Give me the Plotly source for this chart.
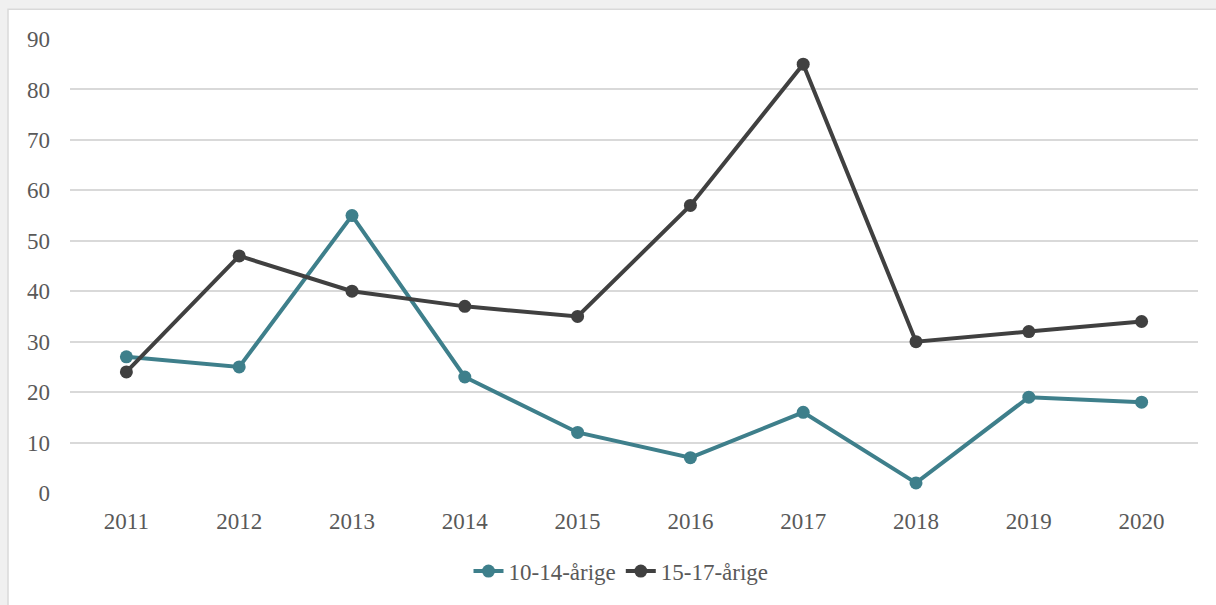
import plotly.graph_objects as go

years = ["2011", "2012", "2013", "2014", "2015", "2016", "2017", "2018", "2019", "2020"]
s_10_14 = [27, 25, 55, 23, 12, 7, 16, 2, 19, 18]
s_15_17 = [24, 47, 40, 37, 35, 57, 85, 30, 32, 34]
y_ticks = [0, 10, 20, 30, 40, 50, 60, 70, 80, 90]

W, H = 1216, 605
ml, mr, mt, mb = 70, 18, 39, 107
pw, ph = W - ml - mr, H - mt - mb

def px(x):
    return (x - ml) / pw

def py(y):
    return (H - mb - y) / ph

FONT = "Liberation Serif"
TXT = "#595959"

fig = go.Figure()
fig.add_trace(go.Scatter(x=years, y=s_10_14, name="10-14-årige", mode="lines+markers",
                         line=dict(color="#3e7f8b", width=4), marker=dict(size=13, color="#3e7f8b")))
fig.add_trace(go.Scatter(x=years, y=s_15_17, name="15-17-årige", mode="lines+markers",
                         line=dict(color="#404040", width=4), marker=dict(size=13, color="#404040")))

fig.update_layout(
    width=W, height=H,
    margin=dict(l=ml, r=mr, t=mt, b=mb),
    paper_bgcolor="#f0f0f0",
    plot_bgcolor="rgba(0,0,0,0)",
    font=dict(family=FONT, size=23, color=TXT),
    showlegend=True,
    legend=dict(orientation="h", x=px(621), xanchor="center", y=py(577), yanchor="middle",
                font=dict(family=FONT, size=23, color=TXT), bgcolor="rgba(0,0,0,0)"),
    shapes=[dict(type="rect", xref="paper", yref="paper",
                 x0=px(8), x1=px(W + 5), y0=py(H + 15), y1=py(9),
                 fillcolor="white", line=dict(color="#d9d9d9", width=1.5), layer="below")],
)
fig.update_xaxes(type="category", range=[-0.5, 9.5], showgrid=False, zeroline=False, showline=False,
                 ticks="", ticklabelstandoff=12, tickfont=dict(family=FONT, size=23, color=TXT))
fig.update_yaxes(range=[0, 90], tickvals=y_ticks, showgrid=True, gridcolor="#d9d9d9", gridwidth=1.5,
                 zeroline=False, showline=False, ticks="", ticklabelstandoff=19,
                 tickfont=dict(family=FONT, size=23, color=TXT))

fig.write_html("out.html", config={"displayModeBar": False},
               post_script="document.body.style.margin='0';document.body.style.background='#f0f0f0';")
